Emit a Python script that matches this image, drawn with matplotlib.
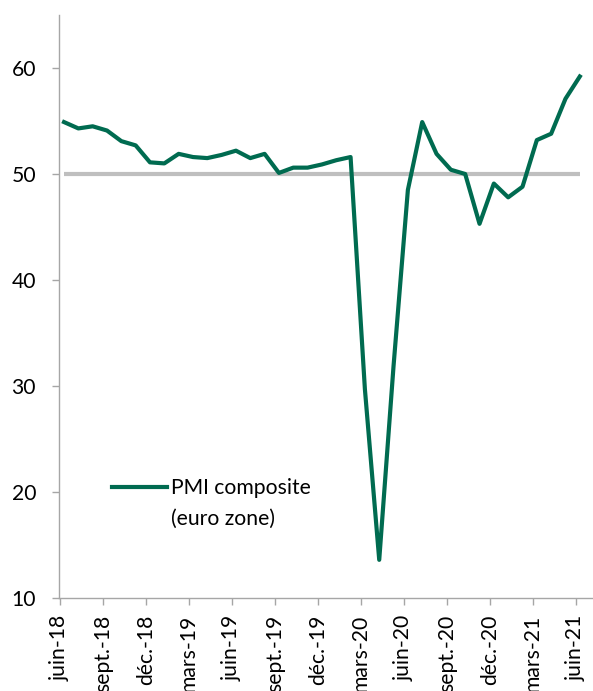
import matplotlib
matplotlib.use("Agg")
import matplotlib.pyplot as plt
from matplotlib.lines import Line2D

plt.rcParams['font.family'] = ['Lato', 'DejaVu Sans']

months = ["juin-18", "juil.-18", "août-18", "sept.-18", "oct.-18", "nov.-18", "déc.-18",
          "janv.-19", "févr.-19", "mars-19", "avr.-19", "mai-19", "juin-19", "juil.-19",
          "août-19", "sept.-19", "oct.-19", "nov.-19", "déc.-19", "janv.-20", "févr.-20",
          "mars-20", "avr.-20", "mai-20", "juin-20", "juil.-20", "août-20", "sept.-20",
          "oct.-20", "nov.-20", "déc.-20", "janv.-21", "févr.-21", "mars-21", "avr.-21",
          "mai-21", "juin-21"]
pmi = [54.9, 54.3, 54.5, 54.1, 53.1, 52.7, 51.1,
       51.0, 51.9, 51.6, 51.5, 51.8, 52.2, 51.5,
       51.9, 50.1, 50.6, 50.6, 50.9, 51.3, 51.6,
       29.7, 13.6, 31.9, 48.5, 54.9, 51.9, 50.4,
       50.0, 45.3, 49.1, 47.8, 48.8, 53.2, 53.8,
       57.1, 59.2]
threshold = 50
yticks = [10, 20, 30, 40, 50, 60]
label = "PMI composite"
label2 = "(euro zone)"

green = "#006B50"
grey_line = "#BFBFBF"
spine = "#A6A6A6"
fs = 15.2
offset = 0.28  # data plotted slightly after the month tick (date axis)

fig = plt.figure(figsize=(5.93, 6.91), dpi=100)
ax = fig.add_axes([59/593, 1-598/691, 1-59/593, (598-15)/691])

x = [i + offset for i in range(len(pmi))]
ax.plot([x[0], x[-1]], [threshold, threshold], color=grey_line, lw=3.0,
        solid_capstyle='butt', zorder=1)
ax.plot(x, pmi, color=green, lw=3.0, zorder=2)

ax.set_xlim(-0.07, 37.2)
ax.set_ylim(10, 65)
ax.set_yticks(yticks)
ax.set_yticklabels([str(v) for v in yticks])
tick_pos = list(range(0, len(pmi), 3))
ax.set_xticks(tick_pos)
ax.set_xticklabels([months[i] for i in tick_pos], rotation=90, va='top', ha='center')

for s in ['top', 'right']:
    ax.spines[s].set_visible(False)
for s in ['left', 'bottom']:
    ax.spines[s].set_color(spine)
    ax.spines[s].set_linewidth(1.0)
ax.tick_params(axis='both', colors=spine, length=5, width=1.0, direction='out',
               labelcolor='black', labelsize=fs)
ax.tick_params(axis='y', pad=11.5)
ax.tick_params(axis='x', pad=7)

handles = [Line2D([], [], color=green, lw=3.0), Line2D([], [], color='none')]
leg = ax.legend(handles, [label, label2], loc='upper left',
                bbox_to_anchor=((112-59)/534, 1-(478-15)/583),
                frameon=False, fontsize=fs, handlelength=2.6, handletextpad=0.2,
                labelspacing=0.52, borderpad=0, borderaxespad=0)

fig.savefig("out.png", dpi=100)
